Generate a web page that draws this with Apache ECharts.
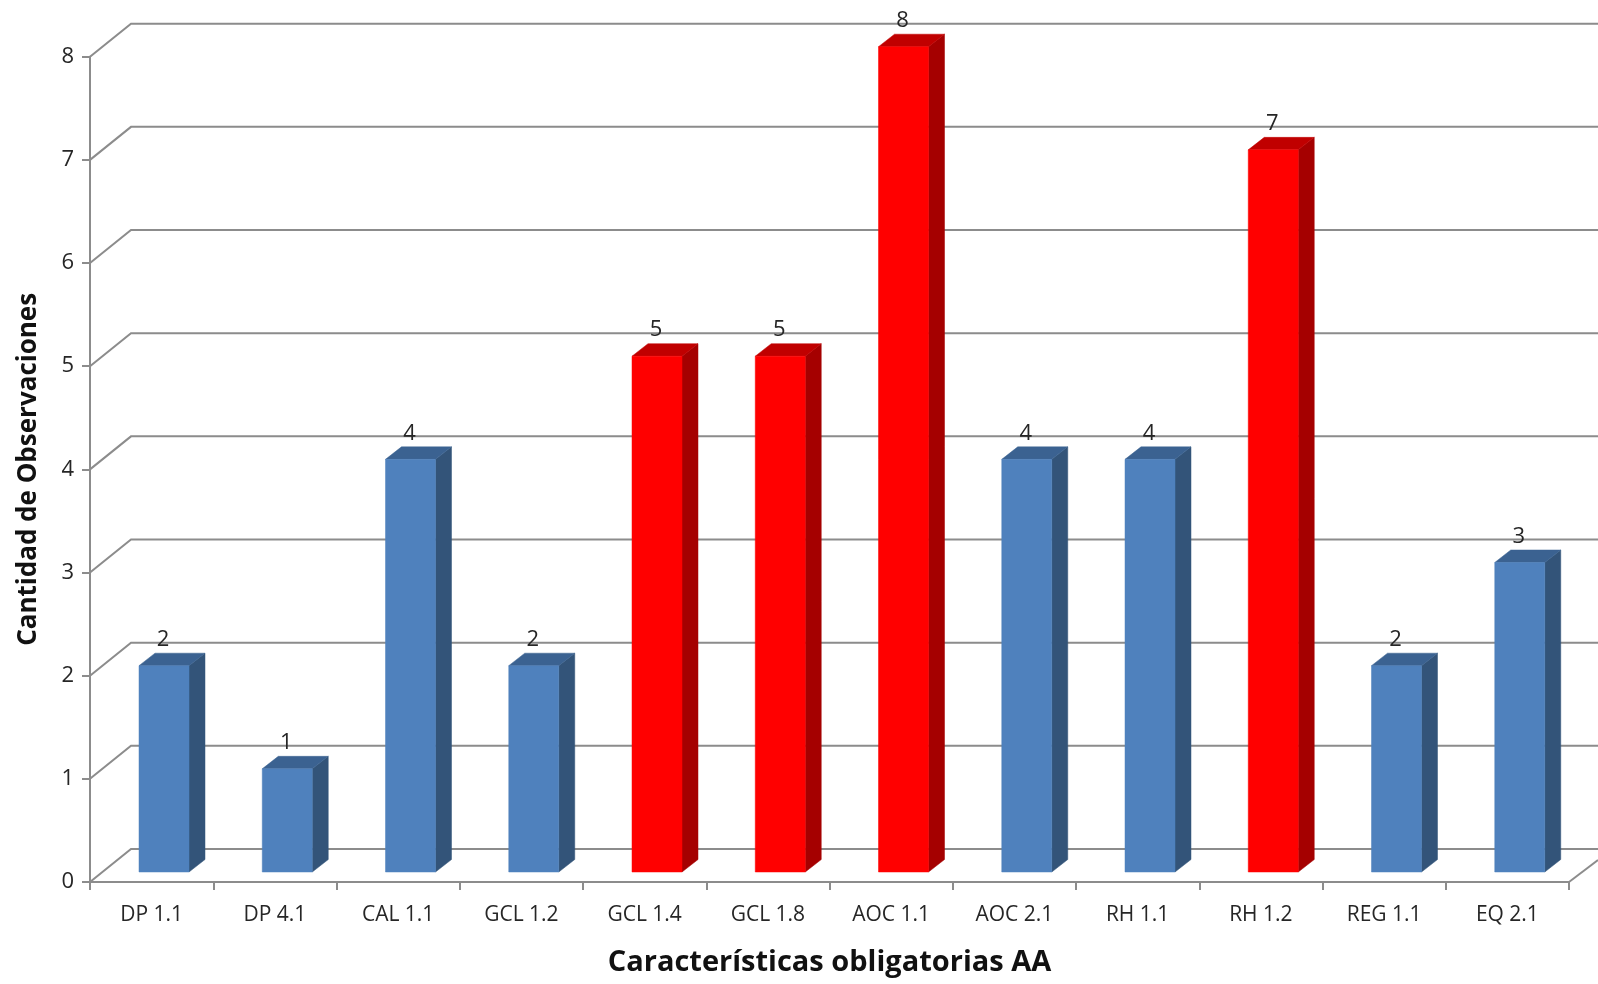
<!DOCTYPE html>
<html><head><meta charset="utf-8">
<style>html,body{margin:0;padding:0;background:#fff}#c{width:1598px;height:984px}</style>
<script src="https://cdn.jsdelivr.net/npm/echarts@6/dist/echarts.min.js"></script>
</head><body><div id="c"></div>
<script>
const categories = ['DP 1.1','DP 4.1','CAL 1.1','GCL 1.2','GCL 1.4','GCL 1.8','AOC 1.1','AOC 2.1','RH 1.1','RH 1.2','REG 1.1','EQ 2.1'];
const values = [2,1,4,2,5,5,8,4,4,7,2,3];
const highlighted = [0,0,0,0,1,1,1,0,0,1,0,0];
const yTicks = [0,1,2,3,4,5,6,7,8];

const FONT = '"Open Sans"';
const GRAY = '#8c8c8c';
const TEXT = '#262626';
const DX = 16, DY = 12.5;
const WALL_X = 41, WALL_Y = 33;
const BLUE = {front:'#4f81bd', side:'#335479', top:'#3b6291'};
const RED = {front:'#ff0000', side:'#a50000', top:'#c00000'};

const chart = echarts.init(document.getElementById('c'), null, {renderer:'canvas'});

function renderWall(params, api){
  const p = api.coord([0, api.value(1)]);
  const band = api.size([1,0])[0];
  const x0 = p[0] - band/2, y = p[1];
  const W = api.getWidth();
  const children = [{
    type:'polyline', silent:true,
    shape:{points:[[x0,y],[x0+WALL_X,y-WALL_Y],[W,y-WALL_Y]]},
    style:{stroke:GRAY, lineWidth:2, fill:null}
  }];
  if (api.value(1) === 0) {
    const xr = x0 + band*categories.length;
    children.push({type:'line', silent:true,
      shape:{x1:xr,y1:y,x2:W,y2:y-22},
      style:{stroke:GRAY, lineWidth:2}});
  }
  return {type:'group', children};
}

function renderBar(params, api){
  const idx = api.value(0), v = api.value(1);
  const c = api.coord([idx, v]);
  const b = api.coord([idx, 0]);
  const band = api.size([1,0])[0];
  const pal = api.value(2) ? RED : BLUE;
  const w = 50;
  const left = b[0] - band/2 + 49;
  const right = left + w;
  const bot = b[1] - 10;
  const top = c[1] - 10;
  const poly = (pts, fill) => ({type:'polygon', shape:{points:pts}, style:{fill, stroke:fill, lineWidth:0.5}});
  return {type:'group', children:[
    poly([[right,bot],[right+DX,bot-DY],[right+DX,top-DY],[right,top]], pal.side),
    poly([[left,top],[left+DX,top-DY],[right+DX,top-DY],[right,top]], pal.top),
    poly([[left,top],[right,top],[right,bot],[left,bot]], pal.front),
    {type:'text', z2:10, style:{
      text:String(v), x:(left+right)/2 - 1, y:top - 26,
      align:'center', verticalAlign:'middle',
      font:'22px '+FONT, fill:TEXT
    }}
  ]};
}

chart.setOption({
  animation:false,
  backgroundColor:'#fff',
  grid:{left:90, top:56.7, width:1479, height:825.3, containLabel:false, outerBoundsMode:'none'},
  xAxis:{
    type:'category', data:categories, boundaryGap:true,
    name:'Características obligatorias AA', nameLocation:'middle', nameGap:66,
    nameTextStyle:{fontFamily:FONT, fontWeight:'bold', fontSize:29, color:'#111'},
    axisLine:{lineStyle:{color:GRAY, width:2}},
    axisTick:{show:true, length:8, alignWithLabel:false, lineStyle:{color:GRAY, width:2}},
    axisLabel:{fontFamily:FONT, fontSize:21, color:TEXT, margin:23, interval:0},
    splitLine:{show:false}
  },
  yAxis:{
    type:'value', min:0, max:8, interval:1,
    name:'Cantidad de Observaciones', nameLocation:'middle', nameGap:48, nameRotate:90,
    nameTextStyle:{fontFamily:FONT, fontWeight:'bold', fontSize:26, color:'#111'},
    axisLine:{show:true, lineStyle:{color:GRAY, width:2}},
    axisTick:{show:true, length:8, lineStyle:{color:GRAY, width:2}},
    axisLabel:{fontFamily:FONT, fontSize:22, color:TEXT, margin:16},
    splitLine:{show:false}
  },
  series:[
    {type:'custom', z:1, silent:true, renderItem:renderWall,
     data:yTicks.map(t=>[0,t]), encode:{x:0,y:1}, clip:false},
    {type:'custom', z:3, silent:true, renderItem:renderBar,
     data:values.map((v,i)=>[i,v,highlighted[i]]), encode:{x:0,y:1}, clip:false}
  ]
});
</script></body></html>
